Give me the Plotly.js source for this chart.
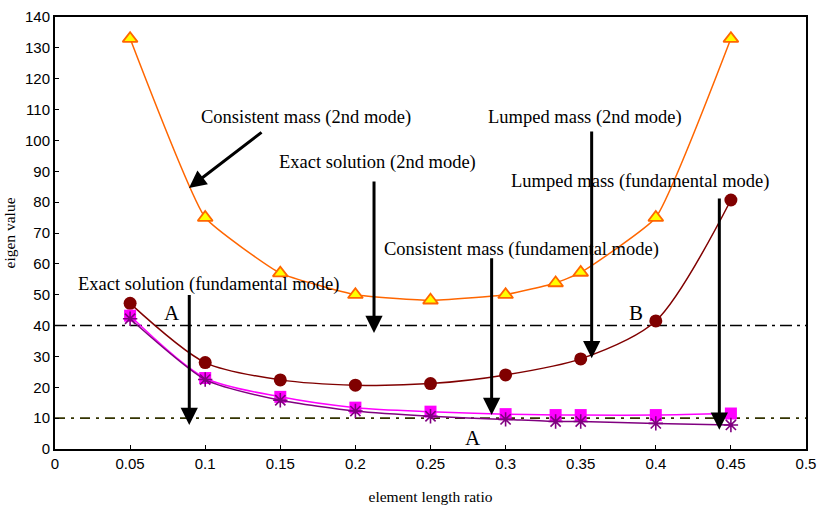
<!DOCTYPE html>
<html>
<head>
<meta charset="utf-8">
<script src="https://cdn.plot.ly/plotly-3.0.1.min.js"></script>
<style>html,body{margin:0;padding:0;background:#fff;}#chart{width:822px;height:506px;}</style>
</head>
<body>
<div id="chart"></div>
<script>
// ---- data ----
const xConsistent2nd = [0.05, 0.1, 0.15, 0.2, 0.25, 0.3, 0.3333, 0.35, 0.4, 0.45];
const yConsistent2nd = [133, 75, 57, 50, 48.2, 50, 53.8, 57.2, 75, 133];

const xLumped2nd = [0.05, 0.1, 0.15, 0.2, 0.25, 0.3, 0.35, 0.4, 0.45];
const yLumped2nd = [47.2, 28, 22.4, 20.7, 21.2, 24, 29.2, 41.5, 80.7];

const xConsistentFund = [0.05, 0.1, 0.15, 0.2, 0.25, 0.3, 0.3333, 0.35, 0.4, 0.45];
const yConsistentFund = [43.2, 23, 16.9, 13.4, 12.1, 11.3, 11, 11, 11, 11.5];

const xLumpedFund = [0.05, 0.1, 0.15, 0.2, 0.25, 0.3, 0.3333, 0.35, 0.4, 0.45];
const yLumpedFund = [42.2, 22.5, 15.8, 12.3, 10.6, 9.6, 8.9, 8.9, 8.3, 7.8];

const exact2nd = 40;
const exactFund = 10;
const xRange = [0, 0.5];
const yRange = [0, 140];

// labels: text, x, y
const labelText = ["Consistent mass (2nd mode)", "Exact solution (2nd mode)", "Lumped mass (2nd mode)",
  "Lumped mass (fundamental mode)", "Consistent mass (fundamental mode)", "Exact solution (fundamental mode)",
  "A", "B", "A"];
const labelX = [0.167, 0.2144, 0.3529, 0.3898, 0.3103, 0.1025, 0.078, 0.387, 0.2785];
const labelY = [107.3, 92.7, 107.3, 86.6, 64.5, 53.4, 44, 44, 3.5];

// arrows: tail (x0,y0) -> head (x1,y1)
const arrowX0 = [0.1385, 0.2124, 0.3573, 0.4423, 0.2907, 0.0894];
const arrowY0 = [103, 87.2, 103.4, 81.7, 62.3, 50.4];
const arrowX1 = [0.0892, 0.2124, 0.3573, 0.4423, 0.2907, 0.0894];
const arrowY1 = [84.6, 37.6, 29.4, 6.2, 11, 7.8];

// ---- traces ----
const traces = [
  {x: xRange, y: [exact2nd, exact2nd], mode: 'lines', line: {color: '#000000', width: 1.6, dash: '12px,5px,3px,5px'}, hoverinfo: 'skip'},
  {x: xRange, y: [exactFund, exactFund], mode: 'lines', line: {color: '#333300', width: 1.6, dash: '10px,6px,3px,6px'}, hoverinfo: 'skip'},
  {x: xConsistent2nd, y: yConsistent2nd, mode: 'lines+markers', line: {color: '#FF6600', width: 1.5, shape: 'spline', smoothing: 0.4},
   marker: {symbol: 'triangle-up', size: 13, color: '#FFFF00', line: {color: '#FF6600', width: 1.8}}},
  {x: xLumped2nd, y: yLumped2nd, mode: 'lines+markers', line: {color: '#800000', width: 1.5, shape: 'spline', smoothing: 0.8},
   marker: {symbol: 'circle', size: 13, color: '#800000'}},
  {x: xConsistentFund, y: yConsistentFund, mode: 'lines+markers', line: {color: '#FF00FF', width: 1.5, shape: 'spline', smoothing: 0.8},
   marker: {symbol: 'square', size: 12, color: '#FF00FF'}},
  {x: xLumpedFund, y: yLumpedFund, mode: 'lines+markers', line: {color: '#800080', width: 1.5, shape: 'spline', smoothing: 0.6},
   marker: {symbol: 'asterisk-open', size: 12, color: '#800080', line: {color: '#800080', width: 1.6}}}
];

const annotations = [];
for (let i = 0; i < labelText.length; i++) {
  const big = labelText[i].length === 1;
  annotations.push({x: labelX[i], y: labelY[i], xref: 'x', yref: 'y', text: labelText[i], showarrow: false,
    font: {family: 'Liberation Serif, Times New Roman, serif', size: big ? 21 : 18.5, color: '#000'}});
}
for (let i = 0; i < arrowX0.length; i++) {
  annotations.push({x: arrowX1[i], y: arrowY1[i], ax: arrowX0[i], ay: arrowY0[i], xref: 'x', yref: 'y', axref: 'x', ayref: 'y',
    text: '', showarrow: true, arrowhead: 2, arrowsize: 1.15, arrowwidth: 3, arrowcolor: '#000', standoff: 0, startstandoff: 0});
}

const layout = {
  width: 822, height: 506,
  margin: {l: 55, r: 16, t: 17, b: 57},
  paper_bgcolor: '#fff', plot_bgcolor: '#fff',
  showlegend: false,
  xaxis: {range: xRange, dtick: 0.05, tick0: 0, showgrid: false, zeroline: false, showline: true, linecolor: '#000', linewidth: 2,
    mirror: true, ticks: 'inside', ticklen: 4, tickcolor: '#000',
    tickfont: {family: 'Liberation Sans, Arial, sans-serif', size: 15, color: '#000'},
    title: {text: 'element length ratio', font: {family: 'Liberation Serif, Times New Roman, serif', size: 15.5, color: '#000'}, standoff: 20}},
  yaxis: {range: yRange, dtick: 10, tick0: 0, showgrid: false, zeroline: false, showline: true, linecolor: '#000', linewidth: 2,
    mirror: true, ticks: 'inside', ticklen: 4, tickcolor: '#000',
    tickfont: {family: 'Liberation Sans, Arial, sans-serif', size: 15, color: '#000'},
    title: {text: 'eigen value', font: {family: 'Liberation Serif, Times New Roman, serif', size: 15.5, color: '#000'}, standoff: 6}},
  annotations: annotations
};

Plotly.newPlot('chart', traces, layout, {displayModeBar: false, staticPlot: true});
</script>
</body>
</html>
